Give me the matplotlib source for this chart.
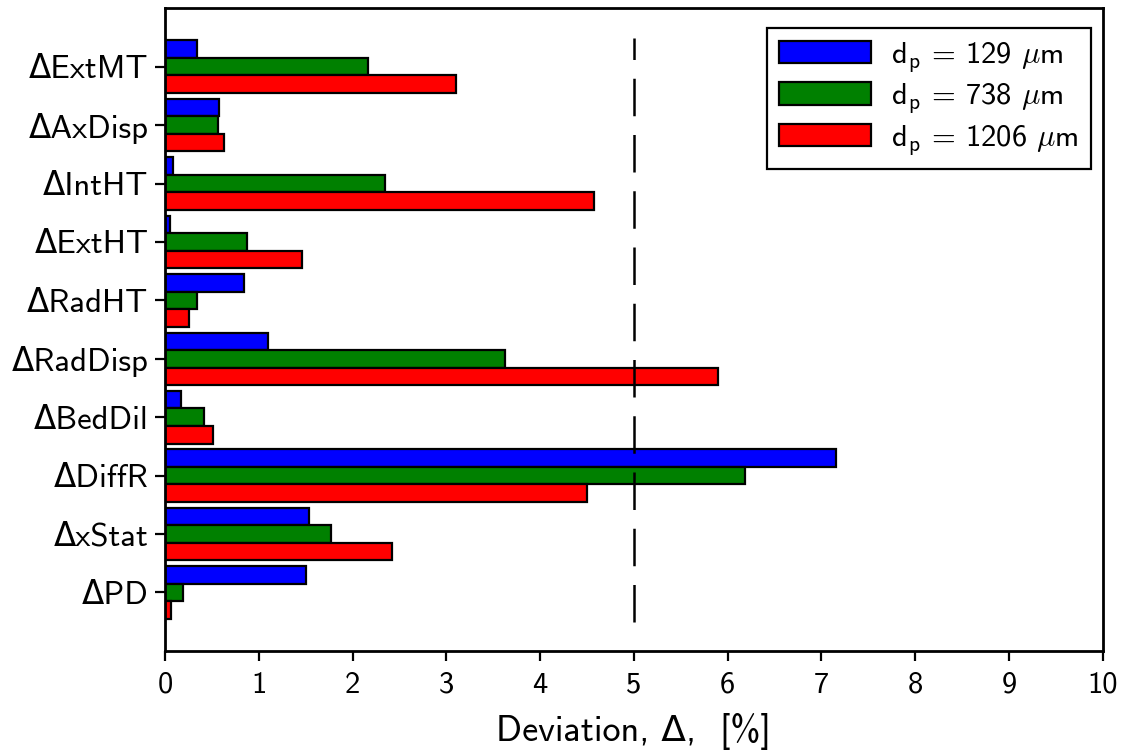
import matplotlib
matplotlib.use("Agg")
import matplotlib.pyplot as plt
import numpy as np

categories = ["ΔPD", "ΔxStat", "ΔDiffR", "ΔBedDil", "ΔRadDisp",
              "ΔRadHT", "ΔExtHT", "ΔIntHT", "ΔAxDisp", "ΔExtMT"]
dp129 = [1.50, 1.53, 7.16, 0.17, 1.10, 0.84, 0.05, 0.08, 0.57, 0.34]
dp738 = [0.19, 1.77, 6.18, 0.41, 3.62, 0.34, 0.87, 2.35, 0.56, 2.16]
dp1206 = [0.06, 2.42, 4.50, 0.51, 5.90, 0.25, 1.46, 4.57, 0.63, 3.10]
series_labels = [r"d$_\mathsf{p}$ = 129 $\mu$m",
                 r"d$_\mathsf{p}$ = 738 $\mu$m",
                 r"d$_\mathsf{p}$ = 1206 $\mu$m"]
xticks = list(range(0, 11))

plt.rcParams['font.family'] = ['cmss10', 'DejaVu Sans']
plt.rcParams['mathtext.fontset'] = 'cm'
plt.rcParams['axes.unicode_minus'] = False

fig = plt.figure(figsize=(11.23, 7.56), dpi=100)
ax = fig.add_axes([0.147, 0.139, 0.835, 0.850])

y = np.arange(len(categories))
h = 0.3
colors = ["#0000ff", "#008000", "#ff0000"]
for i, (vals, col, lab) in enumerate(zip([dp129, dp738, dp1206], colors, series_labels)):
    ax.barh(y + (1 - i) * h, vals, height=h, color=col, edgecolor="black",
            linewidth=1.6, label=lab)

ax.plot([5, 5], [-0.5, 9.5], color="black", linestyle=(0, (15, 7.5)), linewidth=1.8)

ax.set_xlim(0, 10)
ax.set_ylim(-1, 10)
ax.set_yticks(y)
ax.set_yticklabels(categories, fontsize=23.5)
ax.set_xticks(xticks)
ax.set_xticklabels([str(t) for t in xticks], fontsize=22)
ax.tick_params(axis="both", direction="out", length=7, width=1.6, top=False, right=False)
ax.tick_params(axis="y", pad=5)
ax.tick_params(axis="x", pad=8)
for s in ax.spines.values():
    s.set_linewidth(2)
ax.set_xlabel("Deviation, Δ,  [%]", fontsize=26, labelpad=10)

leg = ax.legend(loc="upper right", fontsize=22, fancybox=False, edgecolor="black",
                framealpha=1, handlelength=3.0, handleheight=0.75,
                borderpad=0.4, labelspacing=0.25, handletextpad=0.65,
                borderaxespad=0, bbox_to_anchor=(0.987, 0.970))
leg.get_frame().set_linewidth(1.6)

fig.savefig("out.png", dpi=100)
